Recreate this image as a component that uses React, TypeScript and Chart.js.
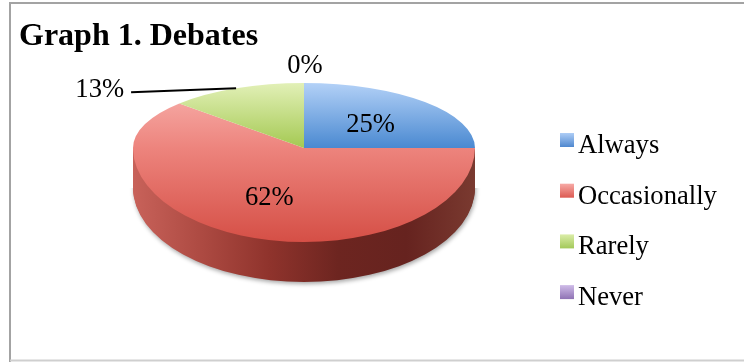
import React, { useEffect, useRef } from 'react';
import { Chart, registerables } from 'chart.js';

Chart.register(...registerables);

// ---- data ----
const categories = ['Always', 'Occasionally', 'Rarely', 'Never'];
const values = [25, 62, 13, 0];
const percentLabels = ['25%', '62%', '13%', '0%'];
const titleText = 'Graph 1. Debates';

// ---- colours ----
const topColors = [
  ['#b3d1f7', '#4a89d1', '#3b73b6'],
  ['#f8b2ae', '#ed847d', '#d54f46'],
  ['#e2f0b7', '#a4c952', '#89b13c'],
  ['#d0bde8', '#9a7fc0', '#7c5ea5'],
];
const sideColors = [
  ['#3d6ea8', '#2c5284'],
  ['#c8625a', '#ad4a42', '#8f332c', '#6d2520', '#66231f', '#7a3a30'],
  ['#8fb045', '#6f8d30'],
  ['#7c5ea5', '#5c4480'],
];
const legendColors = [
  ['#aecdf6', '#4f88cf'],
  ['#f7aaa6', '#dc5a52'],
  ['#dbeda8', '#a3c95a'],
  ['#cfbce8', '#8f72b4'],
];

// ---- layout ----
const W = 744;
const H = 362;
const PIE_RADIUS = 171;
const SCREEN_CY = 148;
const RY_TOP = 65;
const RY_BOTTOM = 94;
const DEPTH = 40;
const FONT = '"Liberation Serif", "Times New Roman", serif';
const LABEL_SIZE = 26.6;

function toScreen(ctx: CanvasRenderingContext2D, cy: number, r: number, ry: number) {
  ctx.translate(0, SCREEN_CY);
  ctx.scale(1, ry / r);
  ctx.translate(0, -cy);
}

function gradientFrom(ctx: CanvasRenderingContext2D, stops: string[], x0: number, y0: number, x1: number, y1: number) {
  const g = ctx.createLinearGradient(x0, y0, x1, y1);
  stops.forEach((c, i) => g.addColorStop(stops.length === 1 ? 0 : i / (stops.length - 1), c));
  return g;
}

function arcGeom(chart: any) {
  const arcs = chart.getDatasetMeta(0).data as any[];
  if (!arcs.length) return null;
  const p = arcs[0].getProps(['x', 'y', 'outerRadius'], true);
  return { arcs, cx: p.x as number, cy: p.y as number, r: p.outerRadius as number };
}

function screenPoint(cx: number, r: number, ang: number, f: number) {
  const s = Math.sin(ang);
  const ry = s < 0 ? RY_TOP : RY_BOTTOM;
  return { x: cx + f * r * Math.cos(ang), y: SCREEN_CY + f * ry * s };
}

const pie3d = {
  id: 'pie3d',
  beforeDatasetsDraw(chart: any) {
    const ctx: CanvasRenderingContext2D = chart.ctx;
    const g = arcGeom(chart);
    ctx.save();
    if (!g) return;
    const { arcs, cx, cy, r } = g;
    ctx.restore();
    // side walls
    for (let d = DEPTH; d >= 1; d--) {
      ctx.save();
      ctx.beginPath();
      ctx.rect(0, SCREEN_CY + d, chart.width, chart.height);
      ctx.clip();
      if (d === DEPTH) {
        ctx.shadowColor = 'rgba(0,0,0,0.35)';
        ctx.shadowBlur = 4;
        ctx.shadowOffsetX = 1;
        ctx.shadowOffsetY = 2;
      }
      ctx.translate(0, d);
      toScreen(ctx, cy, r, RY_BOTTOM);
      arcs.forEach((arc, i) => {
        const { startAngle, endAngle } = arc.getProps(['startAngle', 'endAngle'], true);
        if (endAngle - startAngle <= 0) return;
        ctx.beginPath();
        ctx.moveTo(cx, cy);
        ctx.arc(cx, cy, r, startAngle, endAngle);
        ctx.closePath();
        ctx.fillStyle = gradientFrom(ctx, sideColors[i], cx - r, 0, cx + r, 0);
        ctx.fill();
      });
      ctx.restore();
    }
    // upper half of the top face (drawn by Chart.js)
    ctx.save();
    ctx.beginPath();
    ctx.rect(0, 0, chart.width, SCREEN_CY);
    ctx.clip();
    toScreen(ctx, cy, r, RY_TOP);
  },
  afterDatasetsDraw(chart: any) {
    const ctx: CanvasRenderingContext2D = chart.ctx;
    const g = arcGeom(chart);
    if (!g) return;
    ctx.restore();
    const { arcs, cx, cy, r } = g;
    // lower half of the top face
    ctx.save();
    ctx.beginPath();
    ctx.rect(0, SCREEN_CY, chart.width, chart.height - SCREEN_CY);
    ctx.clip();
    toScreen(ctx, cy, r, RY_BOTTOM);
    arcs.forEach((a) => a.draw(ctx));
    ctx.restore();

    // data labels
    ctx.save();
    ctx.fillStyle = '#000';
    ctx.font = `${LABEL_SIZE}px ${FONT}`;
    ctx.textBaseline = 'alphabetic';
    arcs.forEach((arc, i) => {
      const { startAngle, endAngle } = arc.getProps(['startAngle', 'endAngle'], true);
      const mid = (startAngle + endAngle) / 2;
      const v = values[i];
      if (v >= 20) {
        const p = screenPoint(cx, r, mid, 0.55);
        ctx.textAlign = 'center';
        ctx.fillText(percentLabels[i], p.x, p.y + 9);
      } else if (v > 0) {
        const p = screenPoint(cx, r, mid, 1);
        const endX = p.x - 105;
        const endY = p.y + 4;
        ctx.strokeStyle = '#000';
        ctx.lineWidth = 2;
        ctx.beginPath();
        ctx.moveTo(p.x, p.y);
        ctx.lineTo(endX, endY);
        ctx.stroke();
        ctx.textAlign = 'right';
        ctx.fillText(percentLabels[i], endX - 7, endY + 5);
      } else {
        const p = screenPoint(cx, r, mid, 1);
        ctx.textAlign = 'center';
        ctx.fillText(percentLabels[i], p.x + 1, p.y - 10);
      }
    });
    ctx.restore();
  },
  afterDraw(chart: any) {
    const ctx: CanvasRenderingContext2D = chart.ctx;
    ctx.save();
    // title
    ctx.fillStyle = '#000';
    ctx.font = `bold 32px ${FONT}`;
    ctx.textAlign = 'left';
    ctx.textBaseline = 'alphabetic';
    ctx.fillText(titleText, 19, 45);
    // legend
    ctx.font = `${LABEL_SIZE}px ${FONT}`;
    categories.forEach((c, i) => {
      const top = 133 + i * 50.7;
      ctx.fillStyle = gradientFrom(ctx, legendColors[i], 0, top, 0, top + 14);
      ctx.fillRect(560, top, 14, 14);
      ctx.fillStyle = '#000';
      ctx.fillText(c, 578, top + 20);
    });
    // frame
    ctx.strokeStyle = '#a3a3a3';
    ctx.lineWidth = 2;
    ctx.beginPath();
    ctx.moveTo(10, H);
    ctx.lineTo(10, 3);
    ctx.lineTo(W, 3);
    ctx.stroke();
    ctx.strokeStyle = '#cfcfcf';
    ctx.beginPath();
    ctx.moveTo(10, 360.5);
    ctx.lineTo(W, 360.5);
    ctx.stroke();
    ctx.restore();
  },
};

export default function App() {
  const ref = useRef<HTMLCanvasElement | null>(null);
  useEffect(() => {
    if (!ref.current) return;
    const chart = new Chart(ref.current, {
      type: 'pie',
      data: {
        labels: categories,
        datasets: [
          {
            data: values,
            radius: PIE_RADIUS,
            borderWidth: 0,
            backgroundColor: (c: any) => {
              const i = c.dataIndex;
              const area = c.chart.chartArea;
              if (i === undefined || !area) return topColors[0][1];
              const cy = (area.top + area.bottom) / 2;
              return gradientFrom(c.chart.ctx, topColors[i], 0, cy - PIE_RADIUS, 0, cy + PIE_RADIUS);
            },
          } as any,
        ],
      },
      options: {
        responsive: false,
        animation: false,
        events: [],
        layout: { padding: { left: 0, right: 136, top: 0, bottom: 0 } },
        plugins: {
          legend: { display: false },
          title: { display: false },
          tooltip: { enabled: false },
        },
      },
      plugins: [pie3d],
    });
    return () => chart.destroy();
  }, []);
  return (
    <div style={{ position: 'fixed', left: 0, top: 0, width: W, height: H, background: '#fff' }}>
      <canvas ref={ref} width={W} height={H} style={{ display: 'block', width: W, height: H }} />
    </div>
  );
}
